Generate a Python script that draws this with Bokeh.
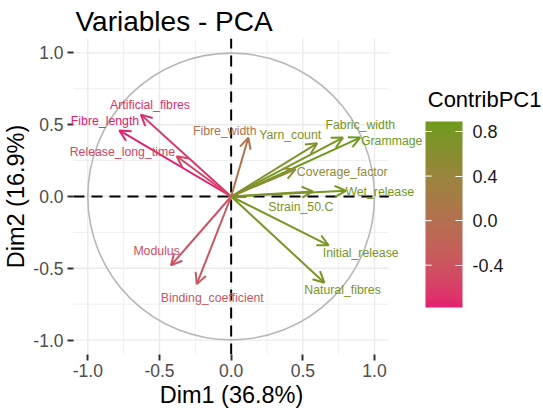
import numpy as np
from bokeh.plotting import figure
from bokeh.models import (ColumnDataSource, Arrow, OpenHead, LabelSet, Label, Title,
                          FixedTicker, LinearColorMapper, ColorBar,
                          PrintfTickFormatter)
from bokeh.core.properties import value
from bokeh.embed import file_html
from bokeh.resources import INLINE

# Variable coordinates on the first two principal dimensions
variables = ["Artificial_fibres", "Fibre_length", "Release_long_time", "Fibre_width",
             "Yarn_count", "Fabric_width", "Grammage", "Coverage_factor",
             "Wet_release", "Strain_50.C", "Initial_release", "Natural_fibres",
             "Modulus", "Binding_coefficient"]
dim1 = [-0.63, -0.78, -0.38, 0.12, 0.60, 0.78, 0.90, 0.45, 0.80, 0.57, 0.68, 0.65, -0.42, -0.24]
dim2 = [0.57, 0.46, 0.28, 0.41, 0.37, 0.41, 0.41, 0.19, 0.04, 0.035, -0.34, -0.60, -0.48, -0.61]
contrib_pc1 = [-0.70, -0.78, -0.55, 0.05, 0.65, 0.78, 0.89, 0.50, 0.85, 0.70, 0.80, 0.75, -0.45, -0.35]

axis_ticks = [-1.0, -0.5, 0.0, 0.5, 1.0]
minor_ticks = [-0.75, -0.25, 0.25, 0.75]
legend_ticks = [-0.4, 0.0, 0.4, 0.8]

# label placement relative to each arrow tip (data units)
label_dx = [0.064, -0.100, -0.379, -0.165, -0.188, 0.121, 0.220, 0.325, 0.237, -0.084, 0.224, 0.127, -0.100, 0.108]
label_dy = [0.069, 0.063, 0.028, 0.046, 0.055, 0.091, -0.023, -0.019, -0.007, -0.105, -0.053, -0.051, 0.098, -0.100]

LOW, HIGH = "#E2206F", "#6E9A1C"
FONT = "Liberation Sans"

# panel limits and frame geometry (pixels per data unit)
LIM = 1.1
FRAME_H = 316
PX = FRAME_H / (2 * LIM)
LEFT, TOP, BOTTOM = 66, 38, 58
W, H = 543, 412
x_start = -LIM - 6 / PX
x_end = x_start + (W - LEFT) / PX

# colour bar box (pixels on the page)
BAR_X, BAR_TOP, BAR_W, BAR_H = 424, 121, 37, 186


def px_to_x(px):
    return x_start + (px - LEFT) / PX


def py_to_y(py):
    return LIM - (py - TOP) / PX


def x_to_px(x):
    return LEFT + (x - x_start) * PX


# --- colour gradient interpolated in CIELAB space ---
M = np.array([[0.4124564, 0.3575761, 0.1804375],
              [0.2126729, 0.7151522, 0.0721750],
              [0.0193339, 0.1191920, 0.9503041]])
WHITE = np.array([0.95047, 1.0, 1.08883])


def hex_to_lab(h):
    rgb = np.array([int(h[i:i + 2], 16) for i in (1, 3, 5)]) / 255.0
    lin = np.where(rgb <= 0.04045, rgb / 12.92, ((rgb + 0.055) / 1.055) ** 2.4)
    xyz = M @ lin / WHITE
    d = 6 / 29
    f = np.where(xyz > d ** 3, np.cbrt(xyz), xyz / (3 * d * d) + 4 / 29)
    return np.array([116 * f[1] - 16, 500 * (f[0] - f[1]), 200 * (f[1] - f[2])])


def lab_to_hex(lab):
    L, a, b = lab
    fy = (L + 16) / 116
    ft = np.array([fy + a / 500, fy, fy - b / 200])
    d = 6 / 29
    xyz = np.where(ft > d, ft ** 3, 3 * d * d * (ft - 4 / 29)) * WHITE
    lin = np.clip(np.linalg.solve(M, xyz), 0, 1)
    rgb = np.where(lin <= 0.0031308, 12.92 * lin, 1.055 * lin ** (1 / 2.4) - 0.055)
    rgb = np.clip(np.round(rgb * 255), 0, 255).astype(int)
    return "#%02x%02x%02x" % tuple(rgb)


lab_lo, lab_hi = hex_to_lab(LOW), hex_to_lab(HIGH)
palette = [lab_to_hex(lab_lo + t * (lab_hi - lab_lo)) for t in np.linspace(0, 1, 256)]
c_lo, c_hi = min(contrib_pc1), max(contrib_pc1)
colors = [lab_to_hex(lab_lo + (c - c_lo) / (c_hi - c_lo) * (lab_hi - lab_lo)) for c in contrib_pc1]

# --- figure ---
p = figure(width=W, height=H, x_range=(x_start, x_end), y_range=(-LIM, LIM),
           output_backend="svg", toolbar_location=None,
           min_border_left=LEFT, min_border_right=0, min_border_top=TOP, min_border_bottom=BOTTOM)
p.outline_line_color = None
p.background_fill_color = "white"
p.xgrid.visible = False
p.ygrid.visible = False

p.title.text = "Variables - PCA"
p.title.text_font = FONT
p.title.text_font_size = "28px"
p.title.text_font_style = "normal"
p.title.text_color = "black"
p.title.align = "left"
p.title.offset = 8
p.title.standoff = 4

for ax in (p.xaxis, p.yaxis):
    ax.ticker = FixedTicker(ticks=axis_ticks)
    ax.formatter = PrintfTickFormatter(format="%.1f")
    ax.axis_line_color = None
    ax.major_tick_line_color = "#333333"
    ax.major_tick_line_width = 2
    ax.minor_tick_line_color = None
    ax.major_label_text_font = FONT
    ax.major_label_text_font_size = "17.5px"
    ax.major_label_text_color = "#4D4D4D"
    ax.axis_label_text_font = FONT
    ax.axis_label_text_font_size = "23.5px"
    ax.axis_label_text_font_style = "normal"
    ax.axis_label_text_color = "black"

p.xaxis.major_tick_in = 0
p.xaxis.major_tick_out = 6
p.xaxis.major_label_standoff = 3
p.yaxis.major_tick_in = 6
p.yaxis.major_tick_out = 0
p.yaxis.major_label_standoff = 4
p.yaxis.axis_label_standoff = 1
p.yaxis.axis_label = "Dim2 (16.9%)"

# x-axis title centred under the square panel rather than the full frame
XTITLE = "Dim1 (36.8%)"
XTITLE_SIZE = 23.5
xtitle_width = 6.112 * XTITLE_SIZE          # advance width of the string in Liberation Sans
panel_centre = (x_to_px(-LIM) + x_to_px(LIM)) / 2
p.add_layout(Title(text=XTITLE, align="left", offset=panel_centre - LEFT - xtitle_width / 2,
                   text_font=FONT, text_font_size=f"{XTITLE_SIZE}px", text_font_style="normal",
                   text_color="black", standoff=0), "below")

# grid confined to the panel
grid_lo = [-LIM] * 5
grid_hi = [LIM] * 5
p.segment(x0=minor_ticks, x1=minor_ticks, y0=grid_lo[:4], y1=grid_hi[:4], line_color="#EBEBEB", line_width=0.8)
p.segment(x0=grid_lo[:4], x1=grid_hi[:4], y0=minor_ticks, y1=minor_ticks, line_color="#EBEBEB", line_width=0.8)
p.segment(x0=axis_ticks, x1=axis_ticks, y0=grid_lo, y1=grid_hi, line_color="#EBEBEB", line_width=1.4)
p.segment(x0=grid_lo, x1=grid_hi, y0=axis_ticks, y1=axis_ticks, line_color="#EBEBEB", line_width=1.4)

# correlation circle
p.circle(x=[0], y=[0], radius=1, fill_color=None, line_color="#B8B8B8", line_width=1.6)

# dashed reference lines through the origin
p.segment(x0=[-LIM, 0], x1=[LIM, 0], y0=[0, -LIM], y1=[0, LIM],
          line_color="black", line_width=2, line_dash="11 7")

# variable arrows
for x1, y1, col in zip(dim1, dim2, colors):
    p.add_layout(Arrow(x_start=0, y_start=0, x_end=x1, y_end=y1,
                       line_color=col, line_width=2,
                       end=OpenHead(size=11, line_color=col, line_width=2)))

src = ColumnDataSource(dict(
    x=[a + d for a, d in zip(dim1, label_dx)],
    y=[b + d for b, d in zip(dim2, label_dy)],
    text=variables, color=colors))
p.add_layout(LabelSet(x="x", y="y", text="text", source=src, text_color="color",
                      text_font=value(FONT), text_font_size="12.3px",
                      text_align="center", text_baseline="middle"))

# colour bar for ContribPC1
mapper = LinearColorMapper(palette=palette, low=c_lo, high=c_hi)
cbar = ColorBar(color_mapper=mapper, width=BAR_W, height=BAR_H,
                ticker=FixedTicker(ticks=legend_ticks),
                formatter=PrintfTickFormatter(format="%.1f"),
                major_label_text_font=FONT, major_label_text_font_size="18px",
                major_label_text_color="#1A1A1A", label_standoff=10,
                major_tick_line_color="white", major_tick_in=7, major_tick_out=0,
                bar_line_color=None, background_fill_alpha=0, border_line_color=None,
                padding=0, margin=0, location=(BAR_X - LEFT, H - BOTTOM - (BAR_TOP + BAR_H)))
p.add_layout(cbar, "center")

# white tick marks on the opposite edge of the bar
tick_y = [py_to_y(BAR_TOP + BAR_H - (t - c_lo) / (c_hi - c_lo) * BAR_H) for t in legend_ticks]
tk = p.segment(x0=[px_to_x(BAR_X)] * 4, x1=[px_to_x(BAR_X + 7)] * 4, y0=tick_y, y1=tick_y,
               line_color="white", line_width=1)
tk.level = "overlay"

p.add_layout(Label(x=px_to_x(427), y=py_to_y(99), text="ContribPC1",
                   text_font=FONT, text_font_size="22px", text_color="black",
                   text_align="left", text_baseline="middle"))

open("out.html", "w").write(file_html(p, INLINE))
